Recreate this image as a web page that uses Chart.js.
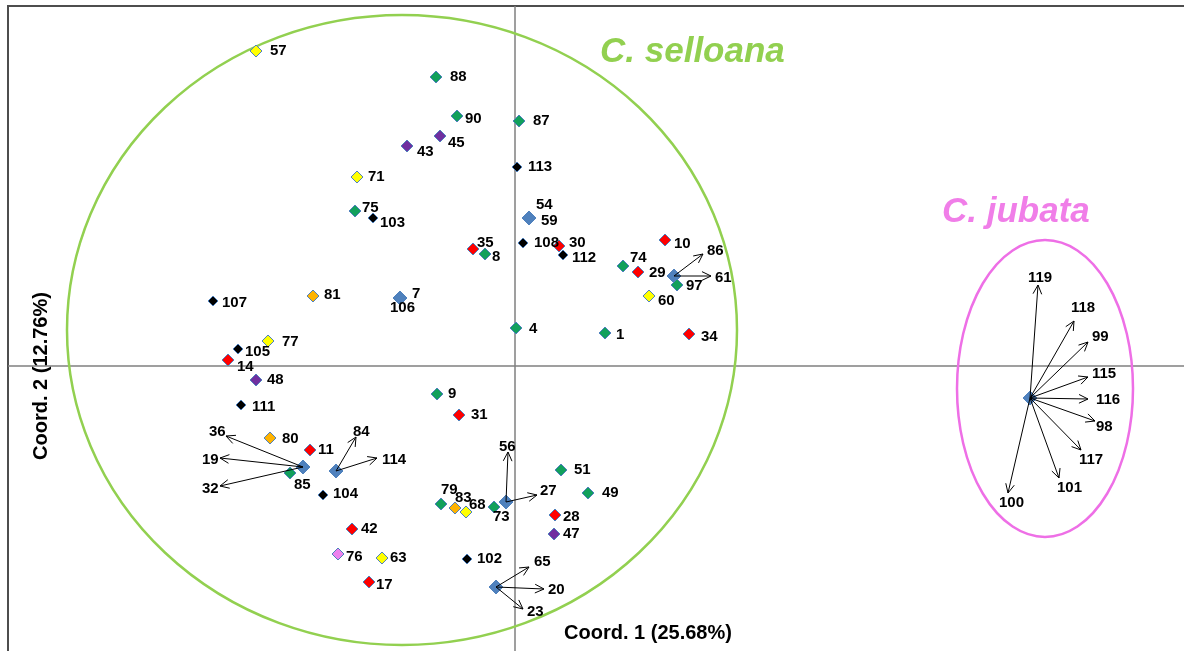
<!DOCTYPE html>
<html>
<head>
<meta charset="utf-8">
<script src="https://cdn.jsdelivr.net/npm/chart.js@4.4.1/dist/chart.umd.min.js"></script>
<style>
  html, body { margin: 0; padding: 0; background: #fff; overflow: hidden; }
  #pcoa { display: block; }
</style>
</head>
<body>
<canvas id="pcoa" width="1184" height="651"></canvas>
<script>
// PCoA scores: [individual, coord 1, coord 2]
const greenPts = [
  ['88', -0.079, 0.289], ['90', -0.058, 0.250], ['87', 0.004, 0.245], ['75', -0.160, 0.155],
  ['8', -0.030, 0.112], ['74', 0.108, 0.100], ['97', 0.162, 0.081], ['4', 0.001, 0.038],
  ['1', 0.090, 0.033], ['9', -0.078, -0.028], ['85', -0.225, -0.107], ['79', -0.074, -0.138],
  ['73', -0.021, -0.141], ['51', 0.046, -0.104], ['49', 0.073, -0.127]
];
const redPts = [
  ['35', -0.042, 0.117], ['30', 0.044, 0.120], ['10', 0.150, 0.126], ['29', 0.123, 0.094],
  ['34', 0.174, 0.032], ['14', -0.287, 0.006], ['31', -0.056, -0.049], ['11', -0.205, -0.084],
  ['42', -0.163, -0.163], ['17', -0.146, -0.216], ['28', 0.040, -0.149]
];
const yellowPts = [
  ['57', -0.259, 0.315], ['71', -0.158, 0.189], ['60', 0.134, 0.070], ['77', -0.247, 0.025],
  ['68', -0.049, -0.146], ['63', -0.133, -0.192]
];
const orangePts = [['81', -0.202, 0.070], ['80', -0.245, -0.072], ['83', -0.060, -0.142]];
const purplePts = [['45', -0.075, 0.230], ['43', -0.108, 0.220], ['48', -0.259, -0.014], ['47', 0.039, -0.168]];
const blackPts = [
  ['113', 0.002, 0.199], ['103', -0.142, 0.148], ['108', 0.008, 0.123], ['112', 0.048, 0.111],
  ['107', -0.302, 0.065], ['105', -0.277, 0.017], ['111', -0.274, -0.039], ['104', -0.192, -0.129],
  ['102', -0.048, -0.193]
];
const pinkPts = [['76', -0.177, -0.188]];
// individuals that share a position (drawn with arrows to their labels)
const bluePts = [
  ['54', 0.014, 0.148], ['59', 0.014, 0.148], ['7', -0.115, 0.068], ['106', -0.115, 0.068],
  ['36', -0.212, -0.101], ['19', -0.212, -0.101], ['32', -0.212, -0.101],
  ['84', -0.179, -0.105], ['114', -0.179, -0.105],
  ['56', -0.009, -0.136], ['27', -0.009, -0.136],
  ['65', -0.019, -0.221], ['20', -0.019, -0.221], ['23', -0.019, -0.221],
  ['86', 0.159, 0.090], ['61', 0.159, 0.090],
  ['119', 0.515, -0.032], ['118', 0.515, -0.032], ['99', 0.515, -0.032], ['115', 0.515, -0.032],
  ['116', 0.515, -0.032], ['98', 0.515, -0.032], ['117', 0.515, -0.032], ['101', 0.515, -0.032],
  ['100', 0.515, -0.032]
];

const axisTitleX = 'Coord. 1 (25.68%)';
const axisTitleY = 'Coord. 2 (12.76%)';
const groupNames = ['C. selloana', 'C. jubata'];
// group ellipses: centre and radii in coordinate units
const ellipseCx = [-0.113, 0.530];
const ellipseCy = [0.036, -0.0225];
const ellipseRx = [0.335, 0.088];
const ellipseRy = [0.315, 0.1485];

// label placement, px from the marker [dx, dy]
const labelOffset = {
  88: [14, 0], 90: [8, 3], 87: [14, 0], 75: [7, -3], 8: [7, 3], 74: [7, -8], 97: [9, 1], 4: [13, 1],
  1: [11, 2], 9: [11, 0], 85: [4, 12], 79: [0, -14], 73: [-1, 10], 51: [13, 0], 49: [14, 0],
  35: [4, -6], 30: [10, -3], 10: [9, 4], 29: [11, 1], 34: [12, 3], 14: [9, 7], 31: [12, 0],
  11: [8, 0], 42: [9, 0], 17: [7, 3], 28: [8, 2],
  57: [14, 0], 71: [11, 0], 60: [9, 5], 77: [14, 1], 68: [3, -7], 63: [8, 0],
  81: [11, -1], 80: [12, 1], 83: [0, -10],
  45: [8, 7], 43: [10, 6], 48: [11, 0], 47: [9, 0],
  113: [11, 0], 103: [7, 5], 108: [11, 0], 112: [9, 3], 107: [9, 2], 105: [7, 3], 111: [11, 2],
  104: [10, -1], 102: [10, 0], 76: [8, 3],
  54: [7, -13], 59: [12, 3], 7: [12, -4], 106: [-10, 10],
  36: [-94, -35], 19: [-101, -7], 32: [-101, 22], 84: [17, -39], 114: [46, -11],
  56: [-7, -55], 27: [34, -11], 65: [38, -25], 20: [52, 3], 23: [31, 25], 86: [33, -25], 61: [41, 2],
  119: [-2, -120], 118: [41, -90], 99: [62, -61], 115: [62, -24], 116: [66, 2], 98: [66, 29],
  117: [49, 62], 101: [27, 90], 100: [-31, 105]
};
// arrow tips, px from the marker
const arrowTip = {
  36: [-77, -31], 19: [-83, -9], 32: [-83, 19], 84: [20, -34], 114: [41, -13],
  56: [2, -50], 27: [31, -7], 65: [33, -20], 20: [48, 2], 23: [27, 22], 86: [29, -22], 61: [37, 0],
  119: [8, -113], 118: [44, -77], 99: [58, -56], 115: [58, -21], 116: [58, 1], 98: [65, 23],
  117: [51, 52], 101: [29, 80], 100: [-22, 95]
};

function toPoints(list) {
  return list.map(p => ({ id: p[0], x: p[1], y: p[2] }));
}

function series(list, fill, radius, border) {
  return {
    data: toPoints(list),
    pointStyle: 'rectRot',
    pointRadius: radius,
    pointBackgroundColor: fill,
    pointBorderColor: border || '#4f81bd',
    pointBorderWidth: 1,
    showLine: false
  };
}

function arrowHead(ctx, x1, y1, x2, y2) {
  const ang = Math.atan2(y2 - y1, x2 - x1);
  const len = 10;
  ctx.moveTo(x2 - len * Math.cos(ang - 0.45), y2 - len * Math.sin(ang - 0.45));
  ctx.lineTo(x2, y2);
  ctx.lineTo(x2 - len * Math.cos(ang + 0.45), y2 - len * Math.sin(ang + 0.45));
}

const overlay = {
  id: 'overlay',
  beforeDatasetsDraw(chart) {
    const { ctx, chartArea: a, scales: { x, y } } = chart;
    ctx.save();
    // frame, left and top only
    ctx.strokeStyle = '#4d4d4d';
    ctx.lineWidth = 2;
    ctx.beginPath();
    ctx.moveTo(a.left, a.bottom);
    ctx.lineTo(a.left, a.top);
    ctx.lineTo(a.right, a.top);
    ctx.stroke();
    // zero lines
    const x0 = x.getPixelForValue(0), y0 = y.getPixelForValue(0);
    ctx.strokeStyle = '#808080';
    ctx.lineWidth = 1.5;
    ctx.beginPath();
    ctx.moveTo(x0, a.top); ctx.lineTo(x0, a.bottom);
    ctx.moveTo(a.left, y0); ctx.lineTo(a.right, y0);
    ctx.stroke();
    // group ellipses
    const colors = ['#92d050', '#ee6fe6'];
    ellipseCx.forEach((cx, i) => {
      const px = x.getPixelForValue(cx), py = y.getPixelForValue(ellipseCy[i]);
      const rx = x.getPixelForValue(cx + ellipseRx[i]) - px;
      const ry = py - y.getPixelForValue(ellipseCy[i] + ellipseRy[i]);
      ctx.strokeStyle = colors[i];
      ctx.lineWidth = 2.5;
      ctx.beginPath();
      ctx.ellipse(px, py, rx, ry, 0, 0, Math.PI * 2);
      ctx.stroke();
    });
    ctx.restore();
  },
  afterDatasetsDraw(chart) {
    const { ctx, scales: { x, y } } = chart;
    ctx.save();
    ctx.strokeStyle = '#000';
    ctx.lineWidth = 1;
    ctx.fillStyle = '#000';
    ctx.font = 'bold 15px "Liberation Sans", Arial, sans-serif';
    ctx.textBaseline = 'middle';
    ctx.textAlign = 'left';
    chart.data.datasets.forEach((ds, i) => {
      const meta = chart.getDatasetMeta(i);
      ds.data.forEach((d, j) => {
        const el = meta.data[j];
        const tip = arrowTip[d.id];
        if (tip) {
          ctx.beginPath();
          ctx.moveTo(el.x, el.y);
          ctx.lineTo(el.x + tip[0], el.y + tip[1]);
          arrowHead(ctx, el.x, el.y, el.x + tip[0], el.y + tip[1]);
          ctx.stroke();
        }
        const off = labelOffset[d.id] || [10, 0];
        ctx.fillText(d.id, el.x + off[0], el.y + off[1]);
      });
    });
    // group names
    ctx.font = 'italic bold 35px "Liberation Sans", Arial, sans-serif';
    ctx.textBaseline = 'alphabetic';
    ctx.fillStyle = '#92d050';
    ctx.fillText(groupNames[0], x.getPixelForValue(0.085), y.getPixelForValue(0.304));
    ctx.fillStyle = '#f07ee8';
    ctx.fillText(groupNames[1], x.getPixelForValue(0.427), y.getPixelForValue(0.144));
    // axis titles
    ctx.fillStyle = '#000';
    ctx.font = 'bold 20px "Liberation Sans", Arial, sans-serif';
    ctx.textAlign = 'center';
    ctx.textBaseline = 'middle';
    ctx.fillText(axisTitleX, 648, 633);
    ctx.translate(41, 376);
    ctx.rotate(-Math.PI / 2);
    ctx.fillText(axisTitleY, 0, 0);
    ctx.restore();
  }
};

window.addEventListener('load', () => {
  const ctx = document.getElementById('pcoa').getContext('2d');
  new Chart(ctx, {
    type: 'scatter',
    data: {
      datasets: [
        series(greenPts, '#12a05c', 6),
        series(redPts, '#ff0000', 6),
        series(yellowPts, '#ffff00', 6),
        series(orangePts, '#ffb300', 6),
        series(purplePts, '#7030a0', 6),
        series(blackPts, '#000000', 5),
        series(pinkPts, '#ee82ee', 6),
        series(bluePts, '#4f81bd', 7, '#4f81bd')
      ]
    },
    options: {
      responsive: false,
      animation: false,
      layout: { autoPadding: false, padding: { left: 8, top: 6, right: 0, bottom: 0 } },
      plugins: { legend: { display: false }, tooltip: { enabled: false } },
      scales: {
        x: { display: false, min: -0.507, max: 0.669 },
        y: { display: false, min: -0.285, max: 0.360 }
      }
    },
    plugins: [overlay]
  });
});
</script>
</body>
</html>
